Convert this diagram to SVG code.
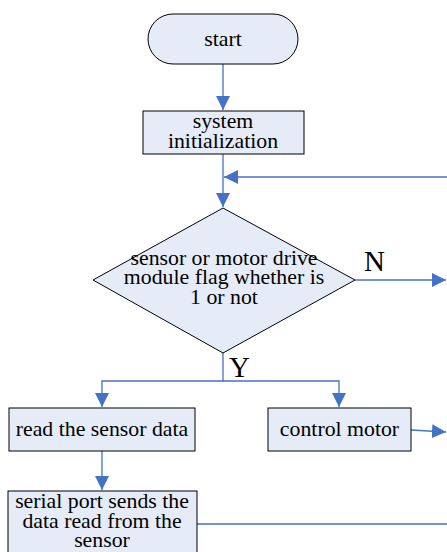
<svg xmlns="http://www.w3.org/2000/svg" width="447" height="552" viewBox="0 0 447 552">
  <style>
    .box { fill: #E6ECF7; stroke: #000; stroke-width: 1; }
    .lbl { font-family: "Liberation Serif", "Times New Roman", serif; font-size: 21.8px; fill: #000; text-anchor: middle; }
    .yn { font-family: "Liberation Serif", "Times New Roman", serif; font-size: 29px; fill: #000; }
    .wire { fill: none; stroke: #4472C4; stroke-width: 1.3; }
  </style>
  <defs>
    <marker id="arrow" viewBox="0 0 10 10" refX="10" refY="5" markerWidth="14" markerHeight="14" markerUnits="userSpaceOnUse" orient="auto">
      <path d="M0,0 L10,5 L0,10 z" fill="#4472C4"/>
    </marker>
  </defs>
  <rect width="447" height="552" fill="#fff"/>

  <g id="connectors">
    <path class="wire" d="M223,64 V110" marker-end="url(#arrow)"/>
    <path class="wire" d="M223,154 V207" marker-end="url(#arrow)"/>
    <path class="wire" d="M447,177 H224" marker-end="url(#arrow)"/>
    <path class="wire" d="M355,280 H446" marker-end="url(#arrow)"/>
    <path class="wire" d="M223,353 V381 H102 V407" marker-end="url(#arrow)"/>
    <path class="wire" d="M223,381 H339 V407" marker-end="url(#arrow)"/>
    <path class="wire" d="M411,430 L446,432" marker-end="url(#arrow)"/>
    <path class="wire" d="M102,451 V490" marker-end="url(#arrow)"/>
    <path class="wire" d="M197,524 H447"/>
  </g>

  <g id="start">
    <rect class="box" x="148" y="14" width="150" height="50" rx="25" ry="25"/>
    <text class="lbl" x="223" y="46">start</text>
  </g>

  <g id="init">
    <rect class="box" x="143" y="111" width="161" height="43"/>
    <text class="lbl" x="223" y="128">system</text>
    <text class="lbl" x="223" y="148">initialization</text>
  </g>

  <g id="decision">
    <polygon class="box" points="223,208 355,280 223,353 93,280"/>
    <text class="lbl" x="224" y="265">sensor or motor drive</text>
    <text class="lbl" x="224" y="284">module flag whether is</text>
    <text class="lbl" x="224" y="304">1 or not</text>
  </g>

  <g id="label-n">
    <text class="yn" x="364" y="271">N</text>
  </g>
  <g id="label-y">
    <text class="yn" x="229" y="377">Y</text>
  </g>

  <g id="read-sensor">
    <rect class="box" x="9" y="408" width="186" height="43"/>
    <text class="lbl" x="102" y="436">read the sensor data</text>
  </g>

  <g id="control-motor">
    <rect class="box" x="268" y="408" width="143" height="43"/>
    <text class="lbl" x="339.5" y="436">control motor</text>
  </g>

  <g id="serial-send">
    <rect class="box" x="8" y="491" width="189" height="70"/>
    <text class="lbl" x="102" y="508">serial port sends the</text>
    <text class="lbl" x="102" y="528">data read from the</text>
    <text class="lbl" x="102" y="547">sensor</text>
  </g>
</svg>
